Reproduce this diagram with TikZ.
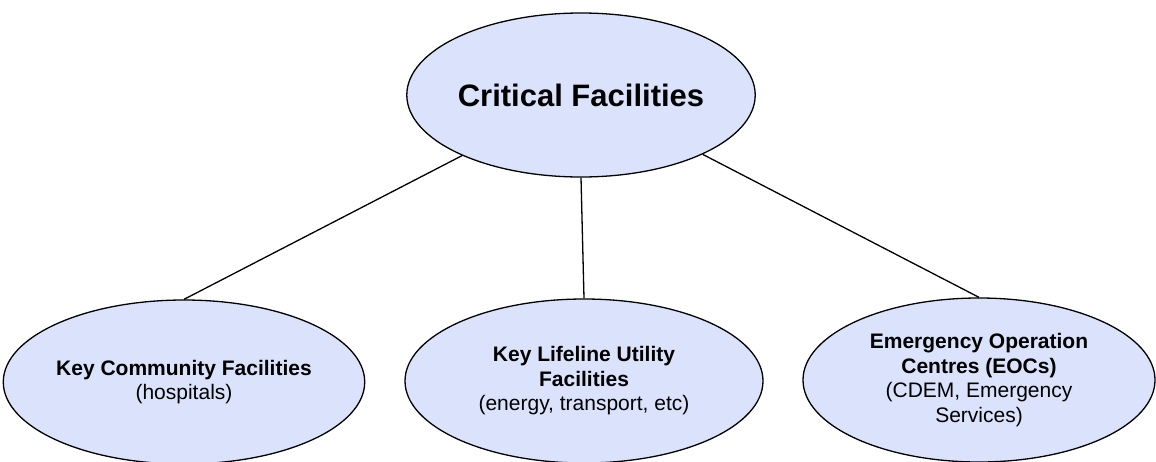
\documentclass[tikz,border=0pt]{standalone}
\usepackage{fontspec}
\setmainfont{Liberation Sans}
\usetikzlibrary{shapes.geometric}
\definecolor{ovalfill}{RGB}{218,227,251}
\tikzset{
  oval/.style={ellipse, draw=black, fill=ovalfill, line width=1.3pt, inner sep=0pt, align=center,
    minimum height=164pt, font=\fontsize{21}{24.5}\selectfont},
  link/.style={line width=1.3pt}
}
\begin{document}
\begin{tikzpicture}[x=1pt,y=-1pt]
                \useasboundingbox (0,0) rectangle (1156,461);
                \node[oval, minimum width=346pt, font=\fontsize{31}{37}\selectfont\bfseries] (crit) at (581,95) {Critical Facilities};
                \node[oval, minimum width=344pt] (comm) at (184,382) {\textbf{Key Community Facilities}\\(hospitals)};
                \node[oval, minimum width=358pt] (life) at (584,381) {\textbf{Key Lifeline Utility}\\\textbf{Facilities}\\(energy, transport, etc)};
                \node[oval, minimum width=352pt] (eoc) at (979,380) {\textbf{Emergency Operation}\\\textbf{Centres (EOCs)}\\(CDEM, Emergency\\Services)};

                \draw[link] (crit.207) to (comm.north); \draw[link] (crit.south) to (life.north); \draw[link] (crit.334) to (eoc.north);
            \end{tikzpicture}
\end{document}
